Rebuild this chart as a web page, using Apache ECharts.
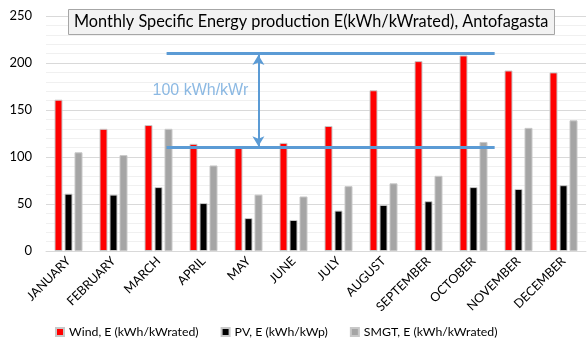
<!DOCTYPE html>
<html><head><meta charset="utf-8">
<script src="https://cdn.jsdelivr.net/npm/echarts@6/dist/echarts.min.js"></script>
<style>html,body{margin:0;padding:0;background:#fff}#c{width:587px;height:347px}</style>
</head><body><div id="c"></div>
<script>
const months = ['JANUARY','FEBRUARY','MARCH','APRIL','MAY','JUNE','JULY','AUGUST','SEPTEMBER','OCTOBER','NOVEMBER','DECEMBER'];
const wind = [161, 130, 134, 114, 110, 115, 133, 171, 202, 208, 192, 190];
const pv   = [61, 60, 68, 51, 35, 33, 43, 49, 53, 68, 66, 70];
const smgt = [105, 102, 130, 91, 60, 58, 69, 72, 80, 116, 131, 139];
const yTicks = [0, 50, 100, 150, 200, 250];
const seriesNames = ['Wind, E (kWh/kWrated)', 'PV, E (kWh/kWp)', 'SMGT, E (kWh/kWrated)'];
// annotation bracket (in data units: x = category position 0..12, y = value)
const bracketUpper = 210;
const bracketLower = 110;
const bracketXStart = 2.68;
const bracketXEnd = 9.97;
const arrowX = 4.72;
const annotationText = '100 kWh/kWr';
const annotationPos = [3.43, 171];

const FONT = 'Lato';
const chart = echarts.init(document.getElementById('c'), null, {renderer: 'canvas'});
const barBorder = {borderColor: '#c8c8c8', borderWidth: 1};
chart.setOption({
  animation: false,
  title: {
    text: 'Monthly Specific Energy production E(kWh/kWrated), Antofagasta',
    left: 68, top: 9,
    padding: [5, 6, 5, 6],
    backgroundColor: '#f2f2f2',
    borderColor: '#a6a6a6', borderWidth: 1,
    textStyle: {fontFamily: FONT, fontSize: 16.3, fontWeight: 'normal', color: '#000'}
  },
  legend: {
    data: seriesNames,
    bottom: 4, left: 50,
    itemWidth: 8, itemHeight: 8, itemGap: 22,
    icon: 'rect',
    textStyle: {fontFamily: FONT, fontSize: 12.3, color: '#000'}
  },
  grid: {left: 46, right: 1, top: 16, bottom: 96},
  xAxis: [{
    type: 'category', data: months,
    axisLine: {lineStyle: {color: '#d9d9d9', width: 1}},
    axisTick: {show: false},
    axisLabel: {rotate: 45, interval: 0, fontFamily: FONT, fontSize: 12.5, color: '#000', margin: 8}
  }, {
    type: 'value', min: 0, max: 12, show: false
  }],
  yAxis: {
    type: 'value', min: 0, max: 250, interval: 10,
    axisLine: {show: false}, axisTick: {show: false},
    axisLabel: {
      fontFamily: FONT, fontSize: 13, color: '#000', margin: 14,
      formatter: v => yTicks.includes(v) ? String(v) : ''
    },
    splitLine: {lineStyle: {color: ['#d9d9d9', '#f0f0f0', '#f0f0f0', '#f0f0f0', '#f0f0f0'], width: 1}}
  },
  series: [
    {name: seriesNames[0], type: 'bar', data: wind, barWidth: 8, barGap: '25%', itemStyle: Object.assign({color: '#ff0000'}, barBorder)},
    {name: seriesNames[1], type: 'bar', data: pv, barWidth: 8, barGap: '25%', itemStyle: Object.assign({color: '#000000'}, barBorder)},
    {name: seriesNames[2], type: 'bar', data: smgt, barWidth: 8, barGap: '25%', itemStyle: Object.assign({color: '#a5a5a5'}, barBorder)},
    {type: 'line', xAxisIndex: 1, data: [[bracketXStart, bracketUpper], [bracketXEnd, bracketUpper]],
      symbol: 'none', lineStyle: {color: '#5b9bd5', width: 3}, z: 5},
    {type: 'line', xAxisIndex: 1, data: [[bracketXStart, bracketLower], [bracketXEnd, bracketLower]],
      symbol: 'none', lineStyle: {color: '#5b9bd5', width: 3}, z: 5,
      markLine: {
        silent: true, symbol: ['arrow', 'arrow'], symbolSize: [9, 10],
        lineStyle: {color: '#5b9bd5', width: 2, type: 'solid'},
        label: {show: false},
        data: [[{coord: [arrowX, bracketUpper - 1.5]}, {coord: [arrowX, bracketLower + 1.5]}]]
      }},
    {type: 'scatter', xAxisIndex: 1, data: [annotationPos], symbolSize: 0, z: 6,
      label: {show: true, position: 'inside', formatter: annotationText,
        fontFamily: 'Liberation Sans', fontSize: 16, color: '#6fa8dc'}}
  ]
});
</script></body></html>
